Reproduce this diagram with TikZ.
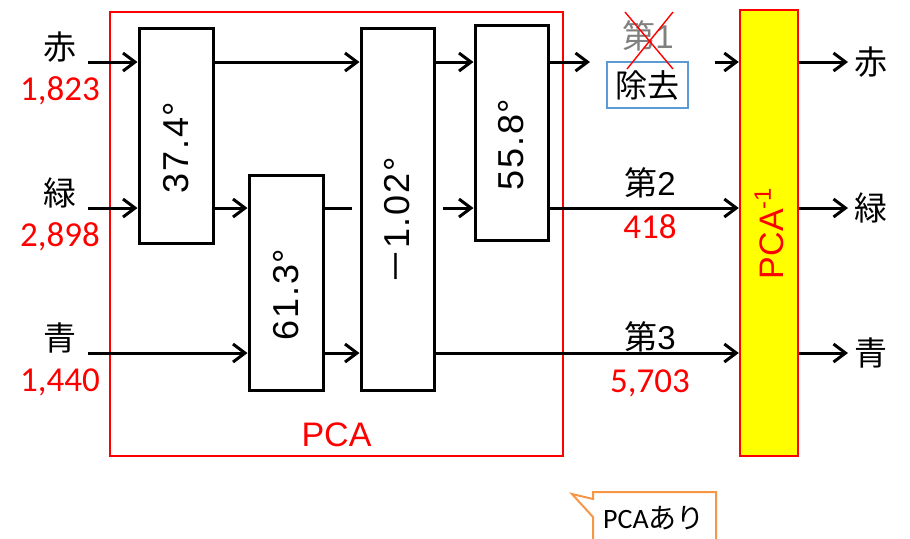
\documentclass[tikz,border=0pt]{standalone}
\usepackage{fontspec}
\usepackage{graphicx}
\usetikzlibrary{arrows.meta}
\setmainfont{Liberation Sans}
\newfontfamily\jp{Noto Sans CJK JP}
\newfontfamily\calfont{Carlito}
\newfontfamily\anglefont[LetterSpace=5]{Liberation Sans}
\definecolor{pcared}{HTML}{FF0000}
\definecolor{pcayellow}{HTML}{FFFF00}
\definecolor{cutblue}{HTML}{5B9BD5}
\definecolor{noteorange}{HTML}{F79646}
\definecolor{gray1}{HTML}{808080}
\newcommand{\turned}[1]{\rotatebox{90}{#1\kern12pt}}

\begin{document}
\begin{tikzpicture}[x=0.5pt,y=-0.5pt,
	box/.style={draw,line width=1.5pt,fill=white,inner sep=0pt,minimum width=37pt,font=\anglefont\fontsize{18}{20}\selectfont},
	flow/.style={line width=1.5pt,-{Straight Barb[length=6pt,width=9pt]}},
	jlabel/.style={inner sep=0pt,font=\jp\fontsize{16.5}{20}\selectfont},
	num/.style={inner sep=0pt,anchor=base,text=pcared,font=\calfont\fontsize{17.5}{20}\selectfont}]
\useasboundingbox (0,0) rectangle (910,538);

% PCA block and its inverse
\node[draw=pcared,line width=1pt,minimum width=226.5pt,minimum height=222pt] (pca) at (336.5,234) {};
\node[inner sep=0pt,text=pcared,font=\fontsize{17}{20}\selectfont] (pcalabel) at (336.5,435) {PCA};
\node[draw=pcared,line width=1.2pt,fill=pcayellow,inner sep=0pt,minimum width=29pt,minimum height=223pt,
	text=pcared,font=\fontsize{17}{20}\selectfont] (pcainv) at (769,233) {\rotatebox{90}{PCA\textsuperscript{-1}}};

% rotations
\node[box,minimum height=107.5pt] (b374) at (176,135.5) {\turned{37.4°}};
\node[box,minimum height=107.5pt] (b613) at (286,282.5) {\turned{61.3°}};
\node[box,minimum width=36.5pt,minimum height=107.5pt] (b558) at (511.5,132.5) {\turned{55.8°}};

\coordinate (in1) at (88,62);
\coordinate (in2) at (88,208);
\coordinate (in3) at (88,353);
\coordinate (cut1) at (590,62);
\coordinate (back1) at (715,62);

% green passes behind the -1.02 box
\draw[flow] (b613.east |- in2) -- (b558.west |- in2);
\node[box,minimum width=36.5pt,minimum height=181pt,preaction={draw=white,line width=9pt}] (b102) at (397.5,209)
	{\turned{{\jp －}1.02°}};

\foreach \r in {1,2}
	\draw[flow] (in\r) -- (in\r -| b374.west);
\draw[flow] (in3) -- (in3 -| b613.west);
\draw[flow] (b374.east |- in1) -- (b102.west |- in1);
\draw[flow] (b374.east |- in2) -- (b613.west |- in2);
\draw[flow] (b613.east |- in3) -- (b102.west |- in3);
\draw[flow] (b102.east |- in1) -- (b558.west |- in1);
\draw[flow] (b558.east |- in1) -- (cut1);
\draw[flow] (back1) -- (back1 -| pcainv.west);
\draw[flow] (b558.east |- in2) -- (pcainv.west |- in2);
\draw[flow] (b102.east |- in3) -- (pcainv.west |- in3);

\foreach \r/\y/\name/\num in {{1/62/赤/1,823},{2/208/緑/2,898},{3/353/青/1,440}}{
	\node[jlabel] (src\r) at (60,\y-15) {\name};
	\node[num] (cnt\r) at (60,\y+38) {\num};
	\coordinate (out\r) at (848,\y);
	\draw[flow] (pcainv.east |- in\r) -- (out\r);
	\node[jlabel] (dst\r) at (871,\y) {\name};
	}

% components
\node[jlabel,text=gray1] (first) at (648,36) {第{\rmfamily 1}};
\node[draw=cutblue,line width=1pt,inner sep=0pt,minimum width=40.5pt,minimum height=23pt,
	font=\jp\fontsize{16}{20}\selectfont] (cut) at (647.5,85) {除去};
\draw[pcared,line width=0.7pt] (625,12) -- (673,69) (673,12) -- (627,69);
\node[jlabel] (second) at (650,183) {第{\rmfamily 2}};
\node[num] (loss2) at (650,238) {418};
\node[jlabel] (third) at (650,337) {第{\rmfamily 3}};
\node[num] (loss3) at (650,392) {5,703};

% note
\draw[noteorange,line width=1pt] (593,499) -- (593,492) -- (716,492) -- (716,548) -- (593,548) -- (593,517) -- (572,494) -- cycle;
\node[inner sep=0pt,font=\calfont\fontsize{14}{18}\selectfont] (note) at (654,518) {PCA{\jp あり}};
\end{tikzpicture}
\end{document}
